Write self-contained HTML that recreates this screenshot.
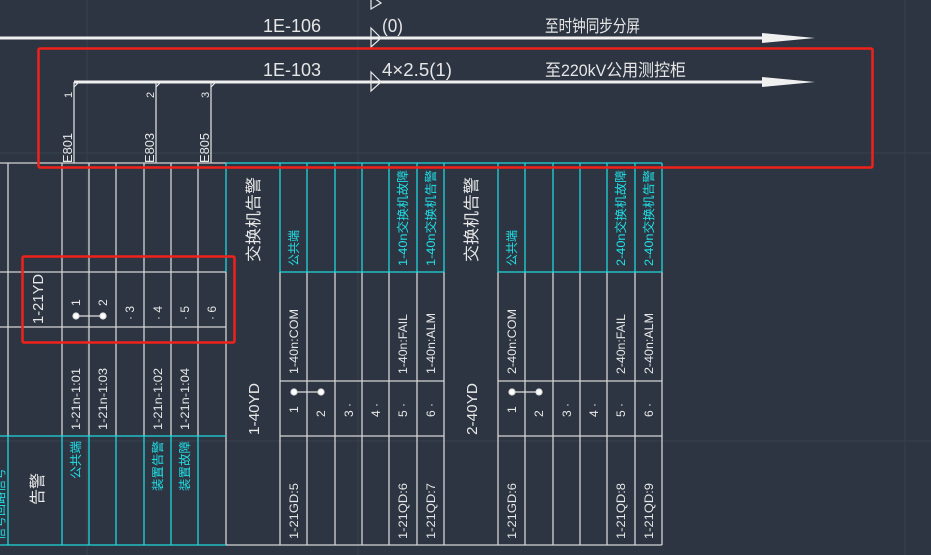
<!DOCTYPE html>
<html><head><meta charset="utf-8"><style>
html,body{margin:0;padding:0;background:#2d3542;}
svg{display:block;font-family:"Liberation Sans","Noto Sans CJK SC",sans-serif;}
</style></head><body>
<svg width="931" height="555" viewBox="0 0 931 555" xmlns="http://www.w3.org/2000/svg">
<rect width="931" height="555" fill="#2d3542"/>
<g stroke="#38414e" stroke-width="1">
<line x1="87" y1="0" x2="87" y2="555"/><line x1="358" y1="0" x2="358" y2="555"/><line x1="905" y1="0" x2="905" y2="555"/>
<line x1="0" y1="153" x2="931" y2="153"/><line x1="0" y1="441" x2="931" y2="441"/>
</g>
<g fill="#f0f0f0" stroke="none">
<rect x="0" y="36.5" width="765" height="3"/>
<polygon points="762,33 815,38 762,43"/>
<rect x="74" y="80.5" width="691" height="3"/>
<polygon points="762,77 815,82 762,87"/>
</g>
<g fill="none" stroke="#e8e8e8" stroke-width="1.2">
<polygon points="371,-4 381,3 371,9"/>
<polygon points="371,28 381,38 371,47"/>
<polygon points="371,72 381,82 371,91"/>
<line x1="74" y1="82" x2="74" y2="163"/><line x1="156" y1="82" x2="156" y2="163"/><line x1="211" y1="82" x2="211" y2="163"/>
<line x1="74" y1="87" x2="79" y2="82"/><line x1="156" y1="87" x2="161" y2="82"/><line x1="211" y1="87" x2="216" y2="82"/>
</g>
<g fill="#e6e6e6" font-size="18">
<text x="263" y="32" textLength="58" lengthAdjust="spacingAndGlyphs">1E-106</text>
<text x="382" y="32" textLength="21" lengthAdjust="spacingAndGlyphs">(0)</text>
<text x="545" y="32" font-size="17" textLength="95" lengthAdjust="spacingAndGlyphs">至时钟同步分屏</text>
<text x="263" y="76" textLength="58" lengthAdjust="spacingAndGlyphs">1E-103</text>
<text x="382" y="76" textLength="70" lengthAdjust="spacingAndGlyphs">4×2.5(1)</text>
<text x="545" y="76" font-size="17" textLength="141" lengthAdjust="spacingAndGlyphs">至220kV公用测控柜</text>
</g>
<g fill="#e6e6e6" font-size="11">
<text transform="translate(72,98) rotate(-90)">1</text>
<text transform="translate(154,98) rotate(-90)">2</text>
<text transform="translate(209,98) rotate(-90)">3</text>
<text transform="translate(72,163) rotate(-90)" font-size="13" textLength="30" lengthAdjust="spacingAndGlyphs">E801</text>
<text transform="translate(154,163) rotate(-90)" font-size="13" textLength="30" lengthAdjust="spacingAndGlyphs">E803</text>
<text transform="translate(209,163) rotate(-90)" font-size="13" textLength="30" lengthAdjust="spacingAndGlyphs">E805</text>
</g>
<g stroke="#d4d4d4" stroke-width="1.3">
<line x1="0" y1="163" x2="226" y2="163"/>
<line x1="0" y1="272" x2="226" y2="272"/>
<line x1="0" y1="327" x2="226" y2="327"/>
<line x1="226" y1="545" x2="662" y2="545"/>
<line x1="280" y1="381" x2="444" y2="381"/><line x1="498" y1="381" x2="662" y2="381"/>
<line x1="280" y1="436" x2="444" y2="436"/><line x1="498" y1="436" x2="662" y2="436"/>
<line x1="8" y1="163" x2="8" y2="436"/><line x1="62" y1="163" x2="62" y2="436"/>
<line x1="89" y1="163" x2="89" y2="436"/><line x1="116" y1="163" x2="116" y2="436"/>
<line x1="144" y1="163" x2="144" y2="436"/><line x1="171" y1="163" x2="171" y2="436"/>
<line x1="198" y1="163" x2="198" y2="436"/>
<line x1="226" y1="272" x2="226" y2="545"/>
<line x1="280" y1="272" x2="280" y2="545"/><line x1="307" y1="272" x2="307" y2="545"/>
<line x1="335" y1="272" x2="335" y2="545"/><line x1="362" y1="272" x2="362" y2="545"/>
<line x1="389" y1="272" x2="389" y2="545"/><line x1="417" y1="272" x2="417" y2="545"/>
<line x1="444" y1="272" x2="444" y2="545"/><line x1="498" y1="272" x2="498" y2="545"/>
<line x1="525" y1="272" x2="525" y2="545"/><line x1="553" y1="272" x2="553" y2="545"/>
<line x1="580" y1="272" x2="580" y2="545"/><line x1="607" y1="272" x2="607" y2="545"/>
<line x1="635" y1="272" x2="635" y2="545"/><line x1="662" y1="272" x2="662" y2="545"/>
</g>
<g stroke="#1fd6dc" stroke-width="1.3">
<line x1="226" y1="163" x2="662" y2="163"/>
<line x1="280" y1="272" x2="444" y2="272"/><line x1="498" y1="272" x2="662" y2="272"/>
<line x1="226" y1="163" x2="226" y2="272"/>
<line x1="280" y1="163" x2="280" y2="272"/><line x1="307" y1="163" x2="307" y2="272"/>
<line x1="335" y1="163" x2="335" y2="272"/><line x1="362" y1="163" x2="362" y2="272"/>
<line x1="389" y1="163" x2="389" y2="272"/><line x1="417" y1="163" x2="417" y2="272"/>
<line x1="444" y1="163" x2="444" y2="272"/><line x1="498" y1="163" x2="498" y2="272"/>
<line x1="525" y1="163" x2="525" y2="272"/><line x1="553" y1="163" x2="553" y2="272"/>
<line x1="580" y1="163" x2="580" y2="272"/><line x1="607" y1="163" x2="607" y2="272"/>
<line x1="635" y1="163" x2="635" y2="272"/><line x1="662" y1="163" x2="662" y2="272"/>
<line x1="0" y1="436" x2="226" y2="436"/><line x1="0" y1="545" x2="226" y2="545"/>
<line x1="8" y1="436" x2="8" y2="545"/><line x1="62" y1="436" x2="62" y2="545"/>
<line x1="89" y1="436" x2="89" y2="545"/><line x1="116" y1="436" x2="116" y2="545"/>
<line x1="144" y1="436" x2="144" y2="545"/><line x1="171" y1="436" x2="171" y2="545"/>
<line x1="198" y1="436" x2="198" y2="545"/>
</g>
<g fill="#e8e8e8">
<text transform="translate(259,262) rotate(-90)" font-size="16" textLength="85" lengthAdjust="spacingAndGlyphs">交换机告警</text>
<text transform="translate(477,262) rotate(-90)" font-size="16" textLength="85" lengthAdjust="spacingAndGlyphs">交换机告警</text>
<text transform="translate(259,435) rotate(-90)" font-size="15" textLength="52" lengthAdjust="spacingAndGlyphs">1-40YD</text>
<text transform="translate(477,435) rotate(-90)" font-size="15" textLength="52" lengthAdjust="spacingAndGlyphs">2-40YD</text>
<text transform="translate(43,324) rotate(-90)" font-size="15" textLength="50" lengthAdjust="spacingAndGlyphs">1-21YD</text>
<text transform="translate(43,505) rotate(-90)" font-size="16">告警</text>
</g>
<g fill="#e8e8e8" font-size="12">
<text transform="translate(298,374) rotate(-90)" textLength="65" lengthAdjust="spacingAndGlyphs">1-40n:COM</text>
<text transform="translate(407,374) rotate(-90)" textLength="60" lengthAdjust="spacingAndGlyphs">1-40n:FAIL</text>
<text transform="translate(435,374) rotate(-90)" textLength="61" lengthAdjust="spacingAndGlyphs">1-40n:ALM</text>
<text transform="translate(516,374) rotate(-90)" textLength="65" lengthAdjust="spacingAndGlyphs">2-40n:COM</text>
<text transform="translate(625,374) rotate(-90)" textLength="60" lengthAdjust="spacingAndGlyphs">2-40n:FAIL</text>
<text transform="translate(653,374) rotate(-90)" textLength="61" lengthAdjust="spacingAndGlyphs">2-40n:ALM</text>
<text transform="translate(298,539) rotate(-90)" textLength="56" lengthAdjust="spacingAndGlyphs">1-21GD:5</text>
<text transform="translate(407,539) rotate(-90)" textLength="56" lengthAdjust="spacingAndGlyphs">1-21QD:6</text>
<text transform="translate(435,539) rotate(-90)" textLength="56" lengthAdjust="spacingAndGlyphs">1-21QD:7</text>
<text transform="translate(516,539) rotate(-90)" textLength="56" lengthAdjust="spacingAndGlyphs">1-21GD:6</text>
<text transform="translate(625,539) rotate(-90)" textLength="56" lengthAdjust="spacingAndGlyphs">1-21QD:8</text>
<text transform="translate(653,539) rotate(-90)" textLength="56" lengthAdjust="spacingAndGlyphs">1-21QD:9</text>
<text transform="translate(80,430) rotate(-90)" textLength="62" lengthAdjust="spacingAndGlyphs">1-21n-1:01</text>
<text transform="translate(107,430) rotate(-90)" textLength="62" lengthAdjust="spacingAndGlyphs">1-21n-1:03</text>
<text transform="translate(162,430) rotate(-90)" textLength="62" lengthAdjust="spacingAndGlyphs">1-21n-1:02</text>
<text transform="translate(189,430) rotate(-90)" textLength="62" lengthAdjust="spacingAndGlyphs">1-21n-1:04</text>
<text transform="translate(298,413) rotate(-90)">1</text>
<text transform="translate(325,417) rotate(-90)">2</text>
<text transform="translate(353,417) rotate(-90)">3 ·</text>
<text transform="translate(380,417) rotate(-90)">4 ·</text>
<text transform="translate(407,417) rotate(-90)">5 ·</text>
<text transform="translate(435,417) rotate(-90)">6 ·</text>
<text transform="translate(516,413) rotate(-90)">1</text>
<text transform="translate(543,417) rotate(-90)">2</text>
<text transform="translate(571,417) rotate(-90)">3 ·</text>
<text transform="translate(598,417) rotate(-90)">4 ·</text>
<text transform="translate(625,417) rotate(-90)">5 ·</text>
<text transform="translate(653,417) rotate(-90)">6 ·</text>
<text transform="translate(80,306) rotate(-90)">1</text>
<text transform="translate(107,306) rotate(-90)">2</text>
<text transform="translate(134,320) rotate(-90)">· 3</text>
<text transform="translate(162,320) rotate(-90)">· 4</text>
<text transform="translate(189,320) rotate(-90)">· 5</text>
<text transform="translate(216,320) rotate(-90)">· 6</text>
</g>
<g fill="#ffffff" stroke="#e0e0e0" stroke-width="1.2">
<line x1="76" y1="316" x2="103" y2="316"/><circle cx="76" cy="316" r="3"/><circle cx="103" cy="316" r="3"/>
<line x1="294" y1="392" x2="321" y2="392"/><circle cx="294" cy="392" r="3"/><circle cx="321" cy="392" r="3"/>
<line x1="512" y1="392" x2="539" y2="392"/><circle cx="512" cy="392" r="3"/><circle cx="539" cy="392" r="3"/>
</g>
<g fill="#1fe0e6" font-size="12">
<text transform="translate(298,266) rotate(-90)" textLength="36" lengthAdjust="spacingAndGlyphs">公共端</text>
<text transform="translate(516,266) rotate(-90)" textLength="36" lengthAdjust="spacingAndGlyphs">公共端</text>
<text transform="translate(407,266) rotate(-90)" textLength="96" lengthAdjust="spacingAndGlyphs">1-40n交换机故障</text>
<text transform="translate(435,266) rotate(-90)" textLength="96" lengthAdjust="spacingAndGlyphs">1-40n交换机告警</text>
<text transform="translate(625,266) rotate(-90)" textLength="96" lengthAdjust="spacingAndGlyphs">2-40n交换机故障</text>
<text transform="translate(653,266) rotate(-90)" textLength="96" lengthAdjust="spacingAndGlyphs">2-40n交换机告警</text>
<text transform="translate(80,479) rotate(-90)" textLength="38" lengthAdjust="spacingAndGlyphs">公共端</text>
<text transform="translate(162,491) rotate(-90)" textLength="50" lengthAdjust="spacingAndGlyphs">装置告警</text>
<text transform="translate(189,491) rotate(-90)" textLength="50" lengthAdjust="spacingAndGlyphs">装置故障</text>
<text transform="translate(4,540) rotate(-90)">信号回路信号</text>
</g>
<g fill="none" stroke="#f0211b" stroke-width="2.5">
<rect x="38.5" y="48.5" width="834" height="119" rx="1.5"/>
<rect x="22.5" y="256.5" width="212" height="86" rx="1.5"/>
</g>
</svg>
</body></html>
